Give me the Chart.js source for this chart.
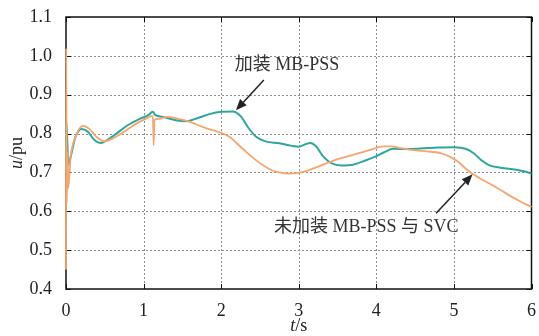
<!DOCTYPE html>
<html>
<head>
<meta charset="utf-8">
<script src="https://cdn.jsdelivr.net/npm/chart.js@4/dist/chart.umd.min.js"></script>
<style>
  html, body { margin: 0; padding: 0; background: #fff; }
  #wrap { width: 539px; height: 336px; }
</style>
</head>
<body>
<div id="wrap"><canvas id="voltChart"></canvas></div>
<script>
/* ================================
   Data
================================ */
const withPssT = [0, 0.005, 0.03, 0.06, 0.12, 0.2, 0.28, 0.36, 0.45, 0.52, 0.65, 0.8, 0.95, 1.05, 1.12, 1.15, 1.25, 1.4, 1.55, 1.7, 1.85, 2.0, 2.15, 2.25, 2.35, 2.45, 2.57, 2.75, 2.9, 3.0, 3.08, 3.15, 3.22, 3.32, 3.42, 3.55, 3.7, 3.85, 3.98, 4.1, 4.22, 4.4, 4.6, 4.8, 5.0, 5.15, 5.25, 5.35, 5.45, 5.6, 5.8, 5.9, 6.0];
const withPssU = [0.70, 0.83, 0.72, 0.74, 0.79, 0.812, 0.805, 0.785, 0.776, 0.782, 0.80, 0.822, 0.838, 0.846, 0.856, 0.848, 0.843, 0.835, 0.832, 0.84, 0.85, 0.856, 0.857, 0.845, 0.815, 0.792, 0.78, 0.775, 0.769, 0.766, 0.772, 0.776, 0.768, 0.74, 0.724, 0.718, 0.72, 0.73, 0.74, 0.752, 0.761, 0.76, 0.762, 0.764, 0.765, 0.761, 0.75, 0.732, 0.719, 0.712, 0.707, 0.703, 0.697];

const noPssT = [0, 0.003, 0.01, 0.02, 0.03, 0.06, 0.12, 0.22, 0.3, 0.4, 0.5, 0.6, 0.75, 0.9, 1.05, 1.1, 1.12, 1.13, 1.14, 1.2, 1.3, 1.45, 1.6, 1.75, 1.9, 2.0, 2.12, 2.2, 2.3, 2.44, 2.62, 2.75, 2.87, 3.0, 3.13, 3.25, 3.38, 3.5, 3.68, 3.9, 4.1, 4.2, 4.3, 4.45, 4.62, 4.84, 4.95, 5.05, 5.15, 5.22, 5.35, 5.48, 5.6, 5.73, 5.85, 6.0];
const noPssU = [0.45, 1.02, 0.62, 0.75, 0.66, 0.74, 0.79, 0.82, 0.812, 0.79, 0.78, 0.787, 0.805, 0.825, 0.84, 0.845, 0.845, 0.77, 0.835, 0.838, 0.843, 0.838, 0.83, 0.818, 0.808, 0.802, 0.79, 0.775, 0.757, 0.733, 0.709, 0.70, 0.697, 0.699, 0.706, 0.715, 0.725, 0.734, 0.744, 0.757, 0.767, 0.767, 0.763, 0.758, 0.755, 0.749, 0.74, 0.728, 0.71, 0.699, 0.683, 0.669, 0.655, 0.639, 0.626, 0.611];

const xTicks = [0, 1, 2, 3, 4, 5, 6];
const yTicks = [0.4, 0.5, 0.6, 0.7, 0.8, 0.9, 1.0, 1.1];

// annotations, in data units: text centre, arrow tail, arrow head
const notes = [
  { text: "加装 MB-PSS", at: [2.85, 0.977], from: [2.55, 0.938], to: [2.19, 0.86] },
  { text: "未加装 MB-PSS 与 SVC", at: [3.87, 0.559], from: [4.77, 0.595], to: [5.24, 0.695] }
];

const SERIF = '"Liberation Serif", "Noto Sans CJK SC", serif';

function toPoints(ts, us) {
  return ts.map((t, i) => ({ x: t, y: us[i] }));
}

/* ================================
   Plugins: grid + frame under the lines, titles + notes on top
================================ */
const framePlugin = {
  id: "frame",
  beforeDatasetsDraw(chart) {
    const { ctx, chartArea: a, scales } = chart;
    const xs = scales.x, ys = scales.y;
    ctx.save();

    // dotted grid
    ctx.strokeStyle = "#8c8c8c";
    ctx.lineWidth = 1;
    ctx.setLineDash([2, 2]);
    xTicks.slice(1, -1).forEach(t => {
      const px = Math.round(xs.getPixelForValue(t)) + 0.5;
      ctx.beginPath(); ctx.moveTo(px, a.top); ctx.lineTo(px, a.bottom); ctx.stroke();
    });
    yTicks.slice(1, -1).forEach(v => {
      const py = Math.round(ys.getPixelForValue(v)) + 0.5;
      ctx.beginPath(); ctx.moveTo(a.left, py); ctx.lineTo(a.right, py); ctx.stroke();
    });
    ctx.setLineDash([]);

    // frame
    ctx.strokeStyle = "#111";
    ctx.lineWidth = 1.5;
    ctx.strokeRect(a.left, a.top, a.right - a.left, a.bottom - a.top);

    // inward ticks
    ctx.lineWidth = 1;
    const tl = 5;
    xTicks.forEach(t => {
      const px = Math.round(xs.getPixelForValue(t)) + 0.5;
      ctx.beginPath();
      ctx.moveTo(px, a.bottom); ctx.lineTo(px, a.bottom - tl);
      ctx.moveTo(px, a.top); ctx.lineTo(px, a.top + tl);
      ctx.stroke();
    });
    yTicks.forEach(v => {
      const py = Math.round(ys.getPixelForValue(v)) + 0.5;
      ctx.beginPath();
      ctx.moveTo(a.left, py); ctx.lineTo(a.left + tl, py);
      ctx.moveTo(a.right, py); ctx.lineTo(a.right - tl, py);
      ctx.stroke();
    });
    ctx.restore();
  },
  afterDraw(chart) {
    const { ctx, chartArea: a, scales } = chart;
    const xs = scales.x, ys = scales.y;
    ctx.save();

    // axis titles with italic variables
    ctx.fillStyle = "#222";
    ctx.textBaseline = "middle";
    const italic = "italic 18px " + SERIF, plain = "18px " + SERIF;
    ctx.font = italic;
    const wT = ctx.measureText("t").width;
    ctx.font = plain;
    const wS = ctx.measureText("/s").width;
    let x0 = (a.left + a.right) / 2 - (wT + wS) / 2;
    ctx.textAlign = "left";
    ctx.font = italic; ctx.fillText("t", x0, 326);
    ctx.font = plain; ctx.fillText("/s", x0 + wT, 326);

    ctx.save();
    ctx.translate(17, (a.top + a.bottom) / 2);
    ctx.rotate(-Math.PI / 2);
    ctx.font = italic;
    const wU = ctx.measureText("u").width;
    ctx.font = plain;
    const wP = ctx.measureText("/pu").width;
    x0 = -(wU + wP) / 2;
    ctx.font = italic; ctx.fillText("u", x0, 0);
    ctx.font = plain; ctx.fillText("/pu", x0 + wU, 0);
    ctx.restore();

    // annotations
    notes.forEach(n => {
      ctx.fillStyle = "#333";
      ctx.font = "18px " + SERIF;
      ctx.textAlign = "center";
      ctx.fillText(n.text, xs.getPixelForValue(n.at[0]), ys.getPixelForValue(n.at[1]));

      const x1 = xs.getPixelForValue(n.from[0]), y1 = ys.getPixelForValue(n.from[1]);
      const x2 = xs.getPixelForValue(n.to[0]), y2 = ys.getPixelForValue(n.to[1]);
      const ang = Math.atan2(y2 - y1, x2 - x1);
      const hl = 11, hw = 4.5;
      ctx.strokeStyle = "#222";
      ctx.lineWidth = 1.5;
      ctx.beginPath();
      ctx.moveTo(x1, y1);
      ctx.lineTo(x2 - hl * Math.cos(ang), y2 - hl * Math.sin(ang));
      ctx.stroke();
      ctx.fillStyle = "#222";
      ctx.beginPath();
      ctx.moveTo(x2, y2);
      ctx.lineTo(x2 - hl * Math.cos(ang) + hw * Math.sin(ang), y2 - hl * Math.sin(ang) - hw * Math.cos(ang));
      ctx.lineTo(x2 - hl * Math.cos(ang) - hw * Math.sin(ang), y2 - hl * Math.sin(ang) + hw * Math.cos(ang));
      ctx.closePath();
      ctx.fill();
    });
    ctx.restore();
  }
};

/* ================================
   Chart
================================ */
new Chart(document.getElementById("voltChart"), {
  type: "line",
  data: {
    datasets: [
      {
        label: "未加装 MB-PSS 与 SVC",
        data: toPoints(noPssT, noPssU),
        borderColor: "#f6a66c",
        borderWidth: 1.8,
        pointRadius: 0,
        cubicInterpolationMode: "monotone"
      },
      {
        label: "加装 MB-PSS",
        data: toPoints(withPssT, withPssU),
        borderColor: "#2fa69c",
        borderWidth: 2,
        pointRadius: 0,
        cubicInterpolationMode: "monotone"
      }
    ]
  },
  options: {
    responsive: true,
    maintainAspectRatio: false,
    animation: false,
    clip: false,
    layout: { padding: { top: 17, right: 5, left: 0, bottom: 0 } },
    plugins: { legend: { display: false }, tooltip: { enabled: false } },
    scales: {
      x: {
        type: "linear",
        min: 0, max: 6,
        afterFit: s => { s.height = 47; },
        afterBuildTicks: s => { s.ticks = xTicks.map(v => ({ value: v })); },
        ticks: { color: "#222", font: { family: SERIF, size: 18 }, padding: 3, maxRotation: 0 },
        grid: { display: false },
        border: { display: false }
      },
      y: {
        min: 0.4, max: 1.1,
        afterFit: s => { s.width = 66; },
        afterBuildTicks: s => { s.ticks = yTicks.map(v => ({ value: v })); },
        ticks: { color: "#222", font: { family: SERIF, size: 18 }, padding: 6, callback: v => v.toFixed(1) },
        grid: { display: false },
        border: { display: false }
      }
    }
  },
  plugins: [framePlugin]
});
</script>
</body>
</html>
